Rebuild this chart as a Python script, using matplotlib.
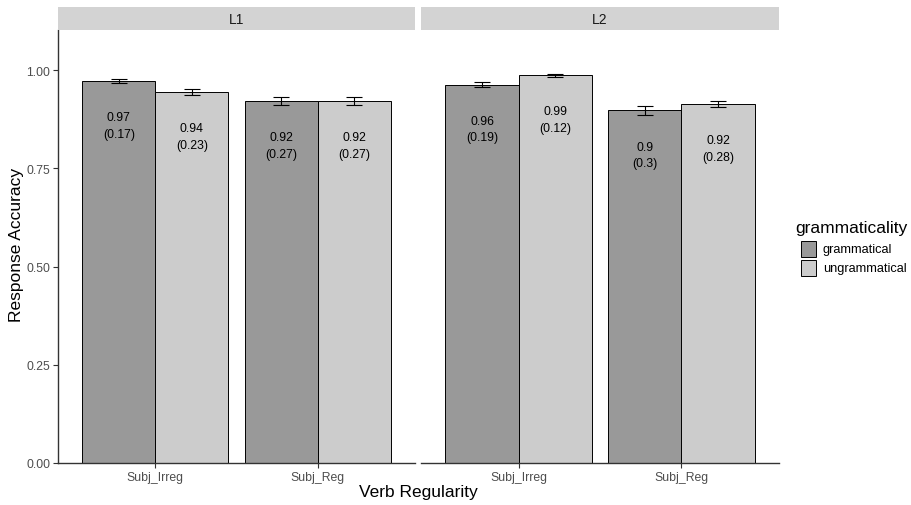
import matplotlib

matplotlib.use("Agg")
import matplotlib.pyplot as plt
from matplotlib.patches import Rectangle

plt.rcParams["font.family"] = ["Liberation Sans", "DejaVu Sans"]

# Data
panels = ["L1", "L2"]
categories = ["Subj_Irreg", "Subj_Reg"]
groups = ["grammatical", "ungrammatical"]

means_l1_gram = [0.972, 0.921]
means_l1_ungram = [0.944, 0.921]
means_l2_gram = [0.963, 0.897]
means_l2_ungram = [0.987, 0.913]

se_l1_gram = [0.005, 0.010]
se_l1_ungram = [0.008, 0.010]
se_l2_gram = [0.006, 0.011]
se_l2_ungram = [0.004, 0.008]

labels_l1_gram = ["0.97\n(0.17)", "0.92\n(0.27)"]
labels_l1_ungram = ["0.94\n(0.23)", "0.92\n(0.27)"]
labels_l2_gram = ["0.96\n(0.19)", "0.9\n(0.3)"]
labels_l2_ungram = ["0.99\n(0.12)", "0.92\n(0.28)"]

y_ticks = [0.00, 0.25, 0.50, 0.75, 1.00]

panel_data = {
    "L1": [(means_l1_gram, se_l1_gram, labels_l1_gram),
           (means_l1_ungram, se_l1_ungram, labels_l1_ungram)],
    "L2": [(means_l2_gram, se_l2_gram, labels_l2_gram),
           (means_l2_ungram, se_l2_ungram, labels_l2_ungram)],
}

FILLS = ["#999999", "#cccccc"]
W, H = 912, 506


def px_axes(fig, x0, y0, x1, y1):
    """Axes from pixel box (top-left origin)."""
    return fig.add_axes([x0 / W, 1 - y1 / H, (x1 - x0) / W, (y1 - y0) / H])


fig = plt.figure(figsize=(W / 100, H / 100), dpi=100)

panel_boxes = [(58, 415), (421, 779)]
top, bottom, strip_top = 31, 464, 8
ymax = (bottom - top) / 393.0

for i, (name, (x0, x1)) in enumerate(zip(panels, panel_boxes)):
    ax = px_axes(fig, x0, top, x1, bottom)
    xs = range(1, len(categories) + 1)
    for g, (vals, errs, labs) in enumerate(panel_data[name]):
        off = -0.225 if g == 0 else 0.225
        pos = [x + off for x in xs]
        ax.bar(pos, vals, width=0.45, color=FILLS[g], edgecolor="black",
               linewidth=0.7, zorder=2)
        ax.errorbar(pos, vals, yerr=errs, fmt="none", ecolor="black",
                    elinewidth=0.8, capsize=0, zorder=3)
        # caps, 0.1 wide like geom_errorbar(width = 0.1)
        for p, v, e in zip(pos, vals, errs):
            for yy in (v - e, v + e):
                ax.plot([p - 0.05, p + 0.05], [yy, yy], color="black",
                        lw=0.8, zorder=3, solid_capstyle="butt")
        for p, v, lab in zip(pos, vals, labs):
            ax.text(p, v - 0.113, lab, ha="center", va="center",
                    fontsize=8.8, color="black", linespacing=1.5, zorder=4)

    ax.set_xlim(0.4, 2.6)
    ax.set_ylim(0, ymax)
    ax.set_xticks(list(xs))
    ax.set_xticklabels(categories, fontsize=8.8, color="#4d4d4d")
    ax.tick_params(axis="x", length=3.5, width=0.8, color="#333333", pad=2)
    for s in ("top", "right"):
        ax.spines[s].set_visible(False)
    ax.spines["bottom"].set_color("#333333")
    ax.spines["bottom"].set_linewidth(1.0)
    if i == 0:
        ax.set_yticks(y_ticks)
        ax.set_yticklabels([f"{t:.2f}" for t in y_ticks], fontsize=8.8,
                           color="#4d4d4d")
        ax.tick_params(axis="y", length=3.5, width=0.8, color="#333333", pad=2)
        ax.spines["left"].set_color("#333333")
        ax.spines["left"].set_linewidth(1.0)
    else:
        ax.spines["left"].set_visible(False)
        ax.set_yticks([])

    sax = px_axes(fig, x0, strip_top, x1, top)
    sax.add_patch(Rectangle((0, 0), 1, 1, transform=sax.transAxes,
                            facecolor="#d3d3d3", edgecolor="none"))
    sax.set_axis_off()
    sax.text(0.5, 0.5, name, ha="center", va="center", fontsize=10,
             color="#1a1a1a", transform=sax.transAxes)

fig.text(17 / W, 1 - 245 / H, "Response Accuracy", ha="center",
         va="center", rotation=90, fontsize=12.5)
fig.text((58 + 779) / 2 / W, 1 - 493 / H, "Verb Regularity", ha="center",
         va="center", fontsize=12.5)

# legend
fig.text(795 / W, 1 - 228 / H, "grammaticality", ha="left", va="center",
         fontsize=12.5)
for g, lab in enumerate(groups):
    yc = 250 + g * 19
    lax = px_axes(fig, 800, yc - 8.5, 817, yc + 8.5)
    lax.add_patch(Rectangle((0.03, 0.03), 0.94, 0.94, transform=lax.transAxes,
                            facecolor=FILLS[g], edgecolor="black",
                            linewidth=0.7))
    lax.set_axis_off()
    fig.text(823 / W, 1 - yc / H, lab, ha="left", va="center", fontsize=9.2)

fig.savefig("out.png", dpi=100)
